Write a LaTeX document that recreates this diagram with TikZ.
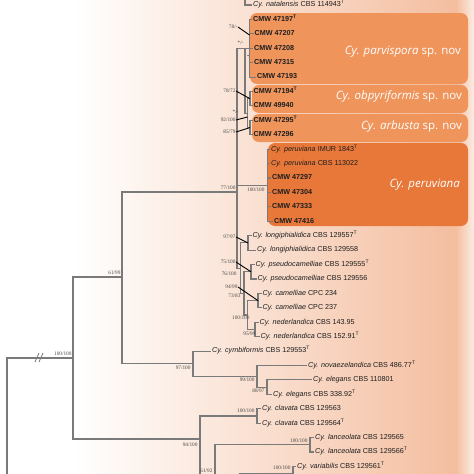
\documentclass[tikz,border=0pt]{standalone}
\usepackage{fontspec}
\setmainfont{Liberation Sans}
\newfontfamily\bsfont{Liberation Serif}
\newfontfamily\boxfont{Open Sans}
\newcommand{\exT}{\textsuperscript{T}}
\definecolor{peach}{HTML}{F4BE9F}
\definecolor{peachedge}{HTML}{FCEDE4}
\definecolor{boxA}{HTML}{EF955C}
\definecolor{boxB}{HTML}{E8783A}
\definecolor{branch}{HTML}{7A7A7A}
\definecolor{tipc}{HTML}{1E1E1E}
\definecolor{bsc}{HTML}{4A4A4A}
\tikzset{
 br/.style={draw=branch, line width=1.1pt},
 tip/.style={anchor=west, inner xsep=1pt, inner ysep=0pt, text height=5.2pt, text depth=1.5pt, font=\fontsize{7.2}{8}\selectfont, text=tipc},
 ctip/.style={tip, font=\fontsize{7.2}{8}\selectfont\bfseries},
 bs/.style={anchor=east, inner sep=0.3pt, font=\bsfont\fontsize{5.3}{5.3}\selectfont, text=bsc},
 ptr/.style={draw=black, line width=0.9pt},
 clade/.style={rounded corners=7pt, fill=boxA},
 cladelab/.style={anchor=east, text=white, font=\boxfont\fontsize{11.5}{13}\selectfont, inner sep=0},
}
\begin{document}
\begin{tikzpicture}[x=1pt,y=-1pt]
\useasboundingbox (0,0) rectangle (474,474);
\clip (0,0) rectangle (474,474);
% background
\fill[white] (0,0) rectangle (474,474);
\shade[left color=white, right color=peach] (75,0) rectangle (456,474);
\shade[left color=peach, right color=peachedge] (456,0) rectangle (474,474);

% clade boxes
\fill[clade] (250,13) rectangle (468,84);
\fill[clade] (252,85) rectangle (468,113);
\fill[clade] (252,114) rectangle (468,142);
\fill[clade, fill=boxB] (268,143) rectangle (468,226);
\node[cladelab] (lp) at (461,52) {\textit{Cy. parvispora} sp. nov};
\node[cladelab] (lo) at (462,96) {\textit{Cy. obpyriformis} sp. nov};
\node[cladelab] (la) at (462,127) {\textit{Cy. arbusta} sp. nov};
\node[cladelab] (lr) at (460,185) {\textit{Cy. peruviana}};

% tip labels
\node[tip] (t0) at (252,5) {\textit{Cy. natalensis} CBS 114943\exT};
\node[ctip] (t1) at (252,19.4) {CMW 47197\exT};
\node[ctip] (t2) at (253.5,33.8) {CMW 47207};
\node[ctip] (t3) at (253,48.3) {CMW 47208};
\node[ctip] (t4) at (253,62.7) {CMW 47315};
\node[ctip] (t5) at (256,77.1) {CMW 47193};
\node[ctip] (t6) at (252.5,91.5) {CMW 47194\exT};
\node[ctip] (t7) at (252.5,105.9) {CMW 49940};
\node[ctip] (t8) at (252.5,120.4) {CMW 47295\exT};
\node[ctip] (t9) at (252.5,134.8) {CMW 47296};
\node[tip] (t10) at (270,149.2) {\textit{Cy. peruviana} IMUR 1843\exT};
\node[tip] (t11) at (270,163.6) {\textit{Cy. peruviana} CBS 113022};
\node[ctip] (t12) at (271,178) {CMW 47297};
\node[ctip] (t13) at (271,192.5) {CMW 47304};
\node[ctip] (t14) at (271,206.9) {CMW 47333};
\node[ctip] (t15) at (273,221.3) {CMW 47416};
\node[tip] (t16) at (251.5,235.7) {\textit{Cy. longiphialidica} CBS 129557\exT};
\node[tip] (t17) at (256,250.1) {\textit{Cy. longiphialidica} CBS 129558};
\node[tip] (t18) at (254.5,264.6) {\textit{Cy. pseudocamelliae} CBS 129555\exT};
\node[tip] (t19) at (256.5,279) {\textit{Cy. pseudocamelliae} CBS 129556};
\node[tip] (t20) at (261.5,293.4) {\textit{Cy. camelliae} CPC 234};
\node[tip] (t21) at (261.5,307.8) {\textit{Cy. camelliae} CPC 237};
\node[tip] (t22) at (258.5,322.2) {\textit{Cy. nederlandica} CBS 143.95};
\node[tip] (t23) at (259.5,336.7) {\textit{Cy. nederlandica} CBS 152.91\exT};
\node[tip] (t24) at (211,351.1) {\textit{Cy. cymbiformis} CBS 129553\exT};
\node[tip] (t25) at (307,365.5) {\textit{Cy. novaezelandica} CBS 486.77\exT};
\node[tip] (t26) at (312,379.9) {\textit{Cy. elegans} CBS 110801};
\node[tip] (t27) at (272,394.3) {\textit{Cy. elegans} CBS 338.92\exT};
\node[tip] (t28) at (261,408.8) {\textit{Cy. clavata} CBS 129563};
\node[tip] (t29) at (261,423.2) {\textit{Cy. clavata} CBS 129564\exT};
\node[tip] (t30) at (314,437.6) {\textit{Cy. lanceolata} CBS 129565};
\node[tip] (t31) at (314,452) {\textit{Cy. lanceolata} CBS 129566\exT};
\node[tip] (t32) at (296,466.4) {\textit{Cy. variabilis} CBS 129561\exT};
\coordinate (t33) at (296,481);

% internal nodes
\coordinate (nat) at (245,-30);
\coordinate (P) at (249.5,48.3);
\coordinate (O) at (250,98.7);
\coordinate (A) at (250,127.6);
\coordinate (W) at (247.5,113.2);
\coordinate (U) at (245,48.3);
\coordinate (R) at (267.5,185.3);
\coordinate (L) at (248,242.9);
\coordinate (Ps) at (251,271.8);
\coordinate (C) at (258,300.6);
\coordinate (N) at (255,329.5);
\coordinate (M1) at (247.5,315);
\coordinate (M2) at (244,293.4);
\coordinate (M3) at (240.5,268.1);
\coordinate (T) at (237,192);
\coordinate (Cy) at (193,363.7);
\coordinate (Nv) at (257,376.3);
\coordinate (E) at (267,387.1);
\coordinate (Y) at (122,277);
\coordinate (X) at (73,358);
\coordinate (root) at (7,520);
\coordinate (Z) at (200,439);
\coordinate (Cl) at (257,416);
\coordinate (Z2) at (215,477);
\coordinate (La) at (310,444.8);
\coordinate (Z3) at (240,510);
\coordinate (V) at (293,473.7);
\coordinate (Z3b) at (260,540);

% branches
\draw[br] (nat) |- (t0.west);
\foreach \t in {t1,t2,t3,t4,t5} \draw[br] (P) |- (\t.west);
\foreach \t in {t6,t7} \draw[br] (O) |- (\t.west);
\foreach \t in {t8,t9} \draw[br] (A) |- (\t.west);
\draw[br] (W) |- (O); \draw[br] (W) |- (A);
\draw[br] (U) |- (P); \draw[br] (U) |- (W);
\foreach \t in {t10,t11,t12,t13,t14,t15} \draw[br] (R) |- (\t.west);
\foreach \t in {t16,t17} \draw[br] (L) |- (\t.west);
\foreach \t in {t18,t19} \draw[br] (Ps) |- (\t.west);
\foreach \t in {t20,t21} \draw[br] (C) |- (\t.west);
\foreach \t in {t22,t23} \draw[br] (N) |- (\t.west);
\draw[br] (M1) |- (C); \draw[br] (M1) |- (N);
\draw[br] (M2) |- (Ps); \draw[br] (M2) |- (M1);
\draw[br] (M3) |- (L); \draw[br] (M3) |- (M2);
\draw[br] (T) |- (U); \draw[br] (T) |- (R); \draw[br] (T) |- (M3);
\foreach \t in {t26,t27} \draw[br] (E) |- (\t.west);
\draw[br] (Nv) |- (t25.west); \draw[br] (Nv) |- (E);
\draw[br] (Cy) |- (t24.west); \draw[br] (Cy) |- (Nv);
\draw[br] (Y) |- (T); \draw[br] (Y) |- (Cy);
\draw[br] (X) |- (Y); \draw[br] (X) |- (Z);
\draw[br] (root) |- (X);
\foreach \t in {t28,t29} \draw[br] (Cl) |- (\t.west);
\foreach \t in {t30,t31} \draw[br] (La) |- (\t.west);
\draw[br] (V) |- (t32.west); \draw[br] (V) |- (t33);
\draw[br] (Z3) |- (V); \draw[br] (Z3) |- (Z3b);
\draw[br] (Z2) |- (La); \draw[br] (Z2) |- (Z3);
\draw[br] (Z) |- (Cl); \draw[br] (Z) |- (Z2);

% break mark
\coordinate (brk1a) at (35,362); \coordinate (brk1b) at (39,353);
\coordinate (brk2a) at (39,362); \coordinate (brk2b) at (43,353);
\draw[br, line width=0.8pt] (brk1a) -- (brk1b);
\draw[br, line width=0.8pt] (brk2a) -- (brk2b);

% support values
\node[bs] (b1) at (238,27) {78/-};
\node[bs] (b2) at (244,43) {*/-};
\node[bs] (b3) at (250,57) {*};
\node[bs] (b4) at (236,91) {78/72};
\node[bs] (b5) at (239,112) {*/-};
\node[bs] (b6) at (236,120) {92/100};
\node[bs] (b7) at (236,132) {85/79};
\node[bs] (b8) at (236,188) {77/100};
\node[bs] (b9) at (265,190) {100/100};
\node[bs] (b10) at (236,237) {97/97};
\node[bs] (b11) at (236,262) {75/100};
\node[bs] (b12) at (237,274) {76/100};
\node[bs] (b13) at (238,287) {94/99};
\node[bs] (b14) at (241,296) {73/83};
\node[bs] (b15) at (250,318) {100/100};
\node[bs] (b16) at (256,334) {95/99};
\node[bs] (b17) at (121,273) {61/99};
\node[bs] (b18) at (72,354) {100/100};
\node[bs] (b19) at (191,368) {97/100};
\node[bs] (b20) at (255,380) {99/100};
\node[bs] (b21) at (265,391) {88/97};
\node[bs] (b22) at (198,445) {94/100};
\node[bs] (b23) at (255,411) {100/100};
\node[bs] (b24) at (308,441) {100/100};
\node[bs] (b25) at (213,471) {61/92};
\node[bs] (b26) at (291,468) {100/100};

% pointers
\draw[ptr] (b1.east) -- (249.5,35);
\draw[ptr] (b4.east) -- (O);
\draw[ptr] (b6.east) -- (247.5,117);
\draw[ptr] (b7.east) -- (A);
\draw[ptr] (b10.east) -- (L);
\draw[ptr] (b11.east) -- (Ps);
\draw[ptr] (b13.east) -- (C);
\end{tikzpicture}
\end{document}
